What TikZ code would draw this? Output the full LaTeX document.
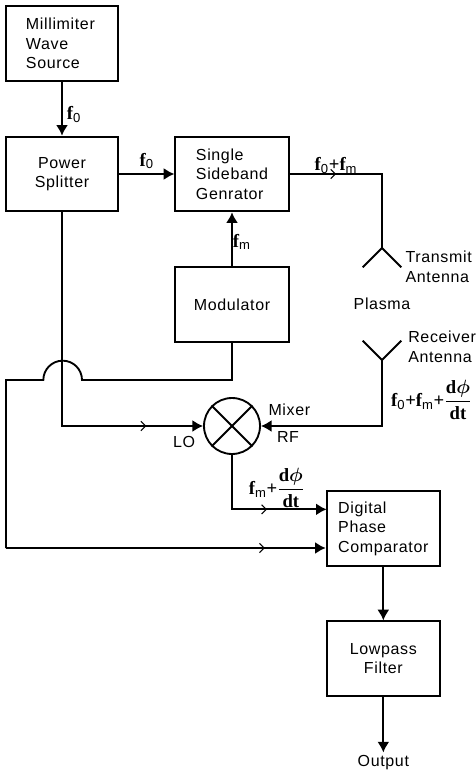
\documentclass[tikz,border=0pt]{standalone}
\usepackage{amsmath}
\usepackage{fontspec}
\setmainfont{Liberation Sans}[LetterSpace=4]
\newfontfamily\freqfont{Liberation Serif}
\usetikzlibrary{arrows,arrows.meta,calc,decorations.markings,positioning,shapes}
\newcommand{\dphi}{\dfrac{\text{d}\boldsymbol{\phi}}{\text{dt}}}
\newcommand{\fsub}[1]{f\textsubscript{\normalfont #1}}
\tikzset{%
	block/.style    = {draw, line width=1.4pt, rectangle, align=center, font=\fontsize{12}{14.5}\selectfont},
	tag/.style      = {font=\fontsize{12}{15}\selectfont, align=left, inner sep=0pt},
	freq/.style     = {font=\freqfont\bfseries\fontsize{14}{16}\selectfont, inner sep=0pt},
	waypoint/.style = {coordinate},
	wire/.style     = {line width=1.4pt},
	arrow/.style    = {wire,-{Latex[length=8pt,width=9pt]}},
	midtip/.style   = {postaction={decorate,decoration={markings,mark=at position #1 with {\arrow[line width=0.8pt]{Straight Barb[length=3.5pt,width=7pt]}}}}},
}
\begin{document}
\begin{tikzpicture}[x=1pt,y=-1pt]
	\useasboundingbox (0,0) rectangle (356.25,577.5);
	% positions read off in px, times .75
	\node [block, align=left, minimum width=84pt, minimum height=56pt, text width=54pt] (S) at (46.5,32.6) {Millimiter\\Wave\\Source};
	\node [block, minimum width=84pt, minimum height=56pt] (P) at (46.5,130.5) {Power\\Splitter};
	\node [block, align=left, minimum width=85pt, minimum height=56pt] (G) at (174,130.5) {Single\\Sideband\\Genrator};
	\node [block, minimum width=85pt, minimum height=56pt] (M) at (174,228.4) {Modulator};
	\node [block, align=left, minimum width=85pt, minimum height=56pt] (D) at (287.5,396.4) {Digital\\Phase\\Comparator};
	\node [block, minimum width=85pt, minimum height=56pt] (L) at (287.5,494) {Lowpass\\Filter};
	\node [draw, wire, circle, minimum size=42pt, inner sep=0pt] (X) at (174,319.5) {};
	\draw [wire] (X.north west) -- (X.south east);
	\draw [wire] (X.north east) -- (X.south west);

	\node [tag] (out) at (287.5,572) {Output};
	\node [tag, anchor=west] (T) at (304,200) {Transmit\\Antenna};
	\node [tag] (pl) at (286.5,228) {Plasma};
	\node [tag, anchor=west] (R) at (306,260) {Receiver\\Antenna};
	\node [tag] (mx) at (217,307.5) {Mixer};
	\node [tag] (rf) at (216,328) {RF};
	\node [tag] (lo) at (138,331.5) {LO};

	% antennas
	\node [waypoint] (ta) at (286.5,186) {};
	\node [waypoint] (ra) at (286.5,270) {};
	\draw [wire] (ta) -- ++(-14.5,14.5) (ta) -- ++(14.5,14.5);
	\draw [wire] (ra) -- ++(-14.5,-14.5) (ra) -- ++(14.5,-14.5);

	\node [waypoint] (c1) at (4.5,285) {};
	\node [waypoint] (c2) at (4.5,411) {};
	\node [waypoint] (j1) at (61.5,285) {};
	\node [waypoint] (dh) at (245,382) {};

	\draw [arrow] (S) -- node[freq,right=3pt,pos=0.6] {\fsub{0}} (P);
	\draw [arrow] (P) -- node[freq,above=3pt] {\fsub{0}} (G);
	\draw [arrow] (M) -- node[freq,right=0pt,pos=0.45] {\fsub{m}} (G);
	\draw [wire, midtip=0.28] (G.east) -| (ta);
	\node [freq] (fs) at (252,124) {\fsub{0}+\fsub{m}};
	\draw [arrow] (ra) |- (X);
	\node [freq] (fr) at (323.5,300) {\fsub{0}+\fsub{m}+$\dphi$};
	\draw [arrow, midtip=0.84] (P) |- (X);
	\draw [arrow, midtip=0.6] (X) |- (dh);
	\node [freq] (fd) at (207.5,366) {\fsub{m}+$\dphi$};
	\draw [arrow] (D) -- (L);
	\draw [arrow, shorten >=2pt] (L) -- (out);
	\draw [wire] (M) |- (j1) arc[start angle=0, end angle=-180, radius=14.5] -- (c1) -- (c2);
	\draw [arrow, midtip=0.81] (c2) -- (D.west |- c2);
\end{tikzpicture}
\end{document}
